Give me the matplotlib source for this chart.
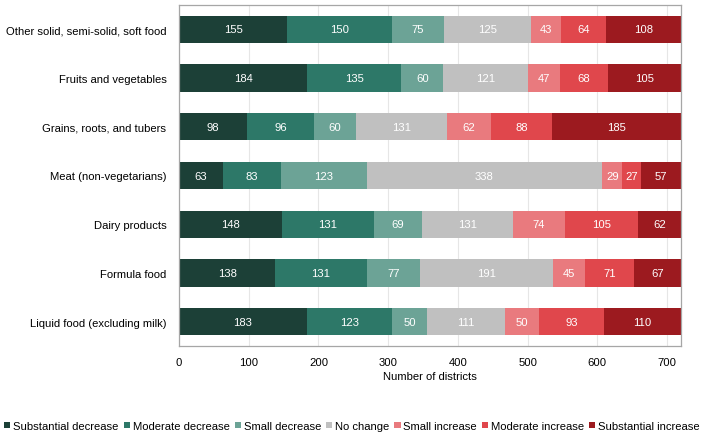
import matplotlib
matplotlib.use("Agg")
import matplotlib.pyplot as plt
import numpy as np

plt.rcParams['font.family'] = ['Liberation Sans', 'DejaVu Sans']

categories = ["Other solid, semi-solid, soft food", "Fruits and vegetables",
              "Grains, roots, and tubers", "Meat (non-vegetarians)",
              "Dairy products", "Formula food", "Liquid food (excluding milk)"]
series_names = ["Substantial decrease", "Moderate decrease", "Small decrease",
                "No change", "Small increase", "Moderate increase", "Substantial increase"]
substantial_decrease = [155, 184, 98, 63, 148, 138, 183]
moderate_decrease = [150, 135, 96, 83, 131, 131, 123]
small_decrease = [75, 60, 60, 123, 69, 77, 50]
no_change = [125, 121, 131, 338, 131, 191, 111]
small_increase = [43, 47, 62, 29, 74, 45, 50]
moderate_increase = [64, 68, 88, 27, 105, 71, 93]
substantial_increase = [108, 105, 185, 57, 62, 67, 110]
series = [substantial_decrease, moderate_decrease, small_decrease, no_change,
          small_increase, moderate_increase, substantial_increase]
colors = ["#1c4037", "#2d7868", "#6ca396", "#c0c0c0", "#e97a7e", "#e0474c", "#9c1a1f"]

fs = 8.1
fig = plt.figure(figsize=(7.04, 4.39), dpi=100)
ax = fig.add_axes([179/704, 1-347/439, (681-179)/704, (347-6)/439])

y = np.arange(len(categories))
left = np.zeros(len(categories))
for name, vals, c in zip(series_names, series, colors):
    vals = np.array(vals)
    ax.barh(y, vals, left=left, height=0.56, color=c, label=name, zorder=2)
    for yi, l, v in zip(y, left, vals):
        ax.text(l + v/2, yi, str(v), ha='center', va='center', color='white', fontsize=fs, zorder=3)
    left += vals

ax.set_xlim(0, 720)
ax.set_ylim(6.5, -0.5)
ax.set_yticks(y)
ax.set_yticklabels(categories, fontsize=fs)
ax.set_xticks(range(0, 701, 100))
ax.tick_params(axis='both', length=0, labelsize=fs)
ax.tick_params(axis='y', pad=9)
ax.tick_params(axis='x', pad=8)
ax.grid(axis='x', color='#e6e6e6', linewidth=0.8, zorder=0)
for s in ax.spines.values():
    s.set_color('#a6a6a6')
    s.set_linewidth(0.9)
ax.set_xlabel("Number of districts", fontsize=fs, labelpad=3)

fig.legend(loc='center', bbox_to_anchor=(0.5, 1-427/439), ncol=7, frameon=False,
           fontsize=fs, handlelength=0.55, handleheight=0.55, handletextpad=0.25,
           columnspacing=0.45, borderaxespad=0, borderpad=0)

fig.savefig("out.png", dpi=100)
